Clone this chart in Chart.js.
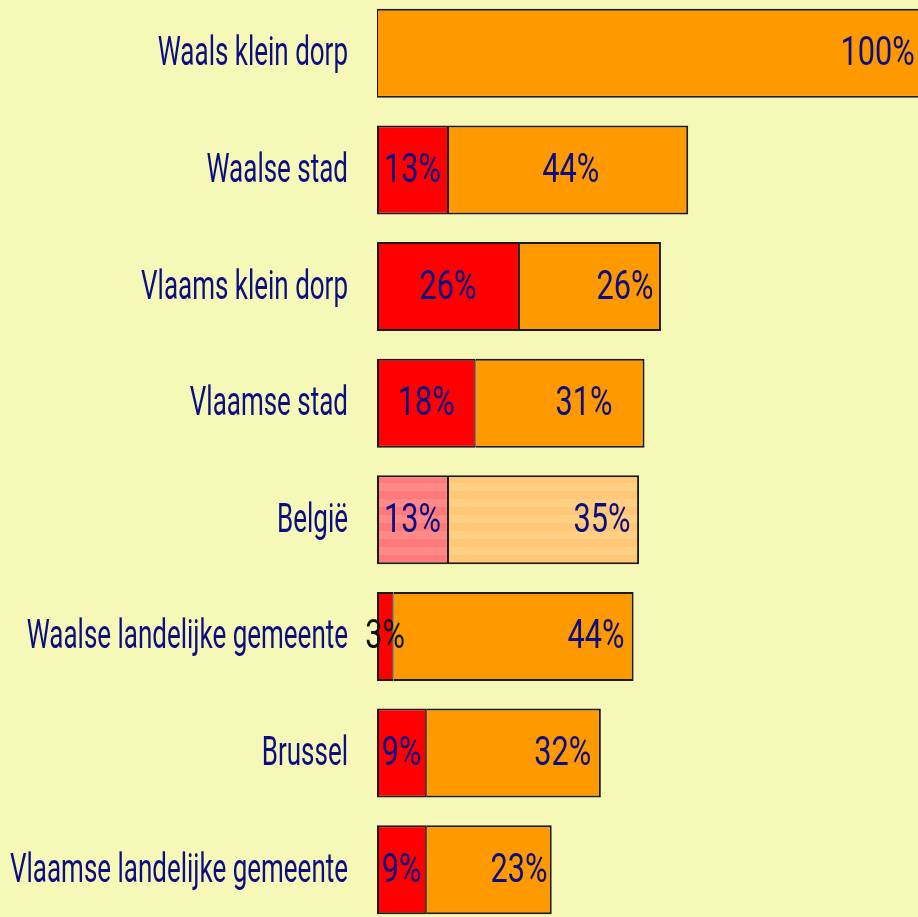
<!DOCTYPE html>
<html>
<head>
<meta charset="utf-8">
<script src="https://cdn.jsdelivr.net/npm/chart.js@4"></script>
<style>
  html, body { margin:0; padding:0; background:#f6f8b8; overflow:hidden; width:918px; height:917px; }
  #wrap { position:absolute; left:0; top:-5px; width:923px; height:933px; }
</style>
</head>
<body>
<div id="wrap"><canvas id="c"></canvas></div>
<script>
// ---- data ----
const categories = ["Waals klein dorp", "Waalse stad", "Vlaams klein dorp", "Vlaamse stad", "België", "Waalse landelijke gemeente", "Brussel", "Vlaamse landelijke gemeente"];
const redValues    = [null, 13, 26, 18, 13, 3, 9, 9];
const orangeValues = [100, 44, 26, 31, 35, 44, 32, 23];
// where the orange value label is centred, in axis units
const orangeLabelAt = [91.7, 35.5, 45.4, 37.9, 41.2, 40.1, 34.0, 26.0];
const highlightIndex = 4; // België drawn striped

// ---- styles ----
const FONT = '400 40px Roboto, "DejaVu Sans Condensed", sans-serif';
const NAVY = '#0d0d82';
function stripes(c1, c2) {
  const p = document.createElement('canvas');
  p.width = 4; p.height = 16;
  const g = p.getContext('2d');
  g.fillStyle = c1; g.fillRect(0, 0, 4, 8);
  g.fillStyle = c2; g.fillRect(0, 8, 4, 8);
  return g.createPattern(p, 'repeat');
}
const redStripe = stripes('#ff7b7b', '#ff8989');
const orangeStripe = stripes('#ffc878', '#ffd083');

const labelPlugin = {
  id: 'labels',
  afterDatasetsDraw(chart) {
    const ctx = chart.ctx;
    const xs = chart.scales.x, ys = chart.scales.y;
    ctx.save();
    ctx.textBaseline = 'middle';
    ctx.font = FONT;
    // condense the glyphs horizontally to match the narrow typeface of the original
    const catSx = 338 / ctx.measureText('Vlaamse landelijke gemeente').width;
    const valSx = 57 / ctx.measureText('26%').width;
    ctx.fillStyle = NAVY;
    categories.forEach((c, i) => {
      const y = ys.getPixelForValue(i) + 2;
      ctx.save();
      ctx.translate(348, y);
      ctx.scale(catSx, 1);
      ctx.textAlign = 'right';
      ctx.fillText(c, 0, 0);
      ctx.restore();
    });
    function drawVal(txt, xv, y, color) {
      ctx.save();
      ctx.translate(xs.getPixelForValue(xv), y);
      ctx.scale(valSx, 1);
      ctx.textAlign = 'center';
      ctx.fillStyle = color;
      ctx.fillText(txt, 0, 0);
      ctx.restore();
    }
    categories.forEach((c, i) => {
      const y = ys.getPixelForValue(i) + 2;
      const r = redValues[i];
      if (r !== null) drawVal(r + '%', r / 2, y, r < 5 ? '#111111' : NAVY);
      drawVal(orangeValues[i] + '%', orangeLabelAt[i], y, NAVY);
    });
    ctx.restore();
  }
};

new Chart(document.getElementById('c'), {
  type: 'bar',
  data: {
    labels: categories,
    datasets: [
      {
        data: redValues,
        backgroundColor: ctx => ctx.dataIndex === highlightIndex ? redStripe : '#ff0000',
        borderColor: '#1a1a1a', borderWidth: { left: 2, top: 2, bottom: 2, right: 1 }, borderSkipped: false,
        categoryPercentage: 1, barPercentage: 0.763
      },
      {
        data: orangeValues,
        backgroundColor: ctx => ctx.dataIndex === highlightIndex ? orangeStripe : '#ff9900',
        borderColor: '#1a1a1a', borderWidth: { left: 1, top: 2, bottom: 2, right: 2 }, borderSkipped: false,
        categoryPercentage: 1, barPercentage: 0.763
      }
    ]
  },
  options: {
    indexAxis: 'y',
    responsive: true,
    maintainAspectRatio: false,
    animation: false,
    layout: { padding: { left: 377, right: 0, top: 0, bottom: 0 } },
    plugins: { legend: { display: false }, tooltip: { enabled: false } },
    scales: {
      x: { stacked: true, min: 0, max: 100, display: false },
      y: { stacked: true, display: false, offset: true }
    }
  },
  plugins: [labelPlugin]
});
</script>
</body>
</html>
